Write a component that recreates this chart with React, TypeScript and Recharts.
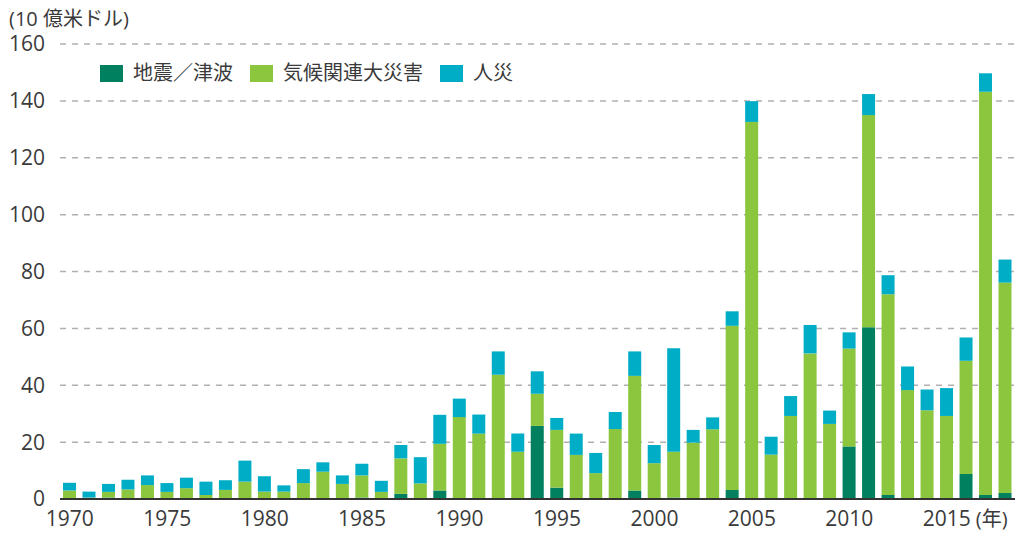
import { BarChart, Bar, XAxis, YAxis, CartesianGrid } from 'recharts';

const years = [
    '1970', '1971', '1972', '1973', '1974', '1975', '1976', '1977', '1978', '1979',
    '1980', '1981', '1982', '1983', '1984', '1985', '1986', '1987', '1988', '1989',
    '1990', '1991', '1992', '1993', '1994', '1995', '1996', '1997', '1998', '1999',
    '2000', '2001', '2002', '2003', '2004', '2005', '2006', '2007', '2008', '2009',
    '2010', '2011', '2012', '2013', '2014', '2015', '2016', '2017', '2018',
];

// 地震／津波
const quake = [
    0, 0, 0.5, 0, 0, 0, 0, 0, 0, 0,
    0, 0, 0, 0, 0, 0.5, 0, 1.8, 0, 3.0,
    0, 0, 0, 0, 25.7, 4.0, 0, 0, 0, 3.0,
    0, 0.5, 0, 0, 3.2, 0, 0, 0, 0, 0,
    18.5, 60.4, 1.4, 0, 0, 0, 8.8, 1.4, 2.1,
];

// 気候関連大災害
const climate = [
    3.0, 0.5, 2.0, 3.3, 4.9, 2.5, 3.8, 1.4, 3.2, 6.1,
    2.6, 2.6, 5.6, 9.6, 5.3, 7.8, 2.5, 12.5, 5.5, 16.4,
    28.8, 23.0, 43.7, 16.6, 11.3, 20.3, 15.5, 9.1, 24.6, 40.3,
    12.6, 16.1, 19.8, 24.5, 57.7, 132.6, 15.6, 29.2, 51.2, 26.4,
    34.4, 74.6, 70.6, 38.3, 31.2, 29.2, 39.8, 141.8, 74.0,
];

// 人災
const manMade = [
    2.7, 2.1, 2.8, 3.5, 3.4, 3.1, 3.7, 4.7, 3.4, 7.4,
    5.4, 2.2, 4.9, 3.3, 3.0, 4.1, 3.9, 4.7, 9.2, 10.2,
    6.5, 6.7, 8.2, 6.4, 7.9, 4.2, 7.5, 7.1, 6.0, 8.6,
    6.4, 36.4, 4.5, 4.2, 5.1, 7.3, 6.3, 7.0, 10.0, 4.7,
    5.7, 7.4, 6.7, 8.3, 7.3, 9.8, 8.2, 6.5, 8.1,
];

const yTicks = [0, 20, 40, 60, 80, 100, 120, 140, 160];

const data = years.map((year, i) => ({
    year,
    quake: quake[i],
    climate: climate[i],
    manMade: manMade[i],
}));

const FONT = "'Open Sans', 'Noto Sans CJK JP', sans-serif";
const TEXT = '#3a3a3a';

const legendItems = [
    { label: '地震／津波', color: '#00805E' },
    { label: '気候関連大災害', color: '#8CC63F' },
    { label: '人災', color: '#00ADC6' },
];

const YearTick = ({ x, y, payload }: any) => (
    <g>
        <text x={x} y={y + 27} textAnchor="middle" fill={TEXT} fontSize={21} fontFamily={FONT}>
            {payload.value}
        </text>
        {payload.value === '2015' && (
            <text x={x + 29} y={y + 27} textAnchor="start" fill={TEXT} fontSize={20} fontFamily={FONT}>
                (年)
            </text>
        )}
    </g>
);

export default function App() {
    return (
        <div style={{ position: 'absolute', left: 0, top: 0, width: 1017, height: 541, background: '#fff' }}>
            <BarChart
                width={1017}
                height={541}
                data={data}
                margin={{ top: 44, right: 2, left: 0, bottom: 0 }}
                barSize={13}
            >
                <CartesianGrid
                    vertical={false}
                    stroke="#b0b0b0"
                    strokeWidth={1.5}
                    strokeDasharray="6 6"
                    horizontalValues={[20, 40, 60, 80, 100, 120, 140, 160]}
                />
                <XAxis
                    dataKey="year"
                    interval={4}
                    tickLine={false}
                    tickSize={0}
                    tickMargin={0}
                    axisLine={{ stroke: '#333', strokeWidth: 2 }}
                    height={42}
                    tick={<YearTick />}
                />
                <YAxis
                    domain={[0, 160]}
                    ticks={yTicks}
                    width={60}
                    axisLine={false}
                    tickLine={false}
                    tickSize={0}
                    tickMargin={15}
                    tick={{ fill: TEXT, fontSize: 21, fontFamily: FONT }}
                />
                <Bar dataKey="quake" stackId="a" fill="#00805E" name="地震／津波" isAnimationActive={false} />
                <Bar dataKey="climate" stackId="a" fill="#8CC63F" name="気候関連大災害" isAnimationActive={false} />
                <Bar dataKey="manMade" stackId="a" fill="#00ADC6" name="人災" isAnimationActive={false} />
            </BarChart>
            <div
                style={{
                    position: 'absolute',
                    left: 9,
                    top: 9,
                    fontFamily: FONT,
                    fontSize: 20,
                    color: TEXT,
                    lineHeight: '20px',
                }}
            >
                (10 億米ドル)
            </div>
            <div
                style={{
                    position: 'absolute',
                    left: 100,
                    top: 62,
                    display: 'flex',
                    alignItems: 'center',
                    fontFamily: FONT,
                }}
            >
                {legendItems.map((item) => (
                    <div key={item.label} style={{ display: 'flex', alignItems: 'center', marginRight: 17 }}>
                        <span style={{ width: 23, height: 17, background: item.color, marginRight: 10 }} />
                        <span style={{ fontSize: 20, color: TEXT, lineHeight: '22px' }}>{item.label}</span>
                    </div>
                ))}
            </div>
        </div>
    );
}
